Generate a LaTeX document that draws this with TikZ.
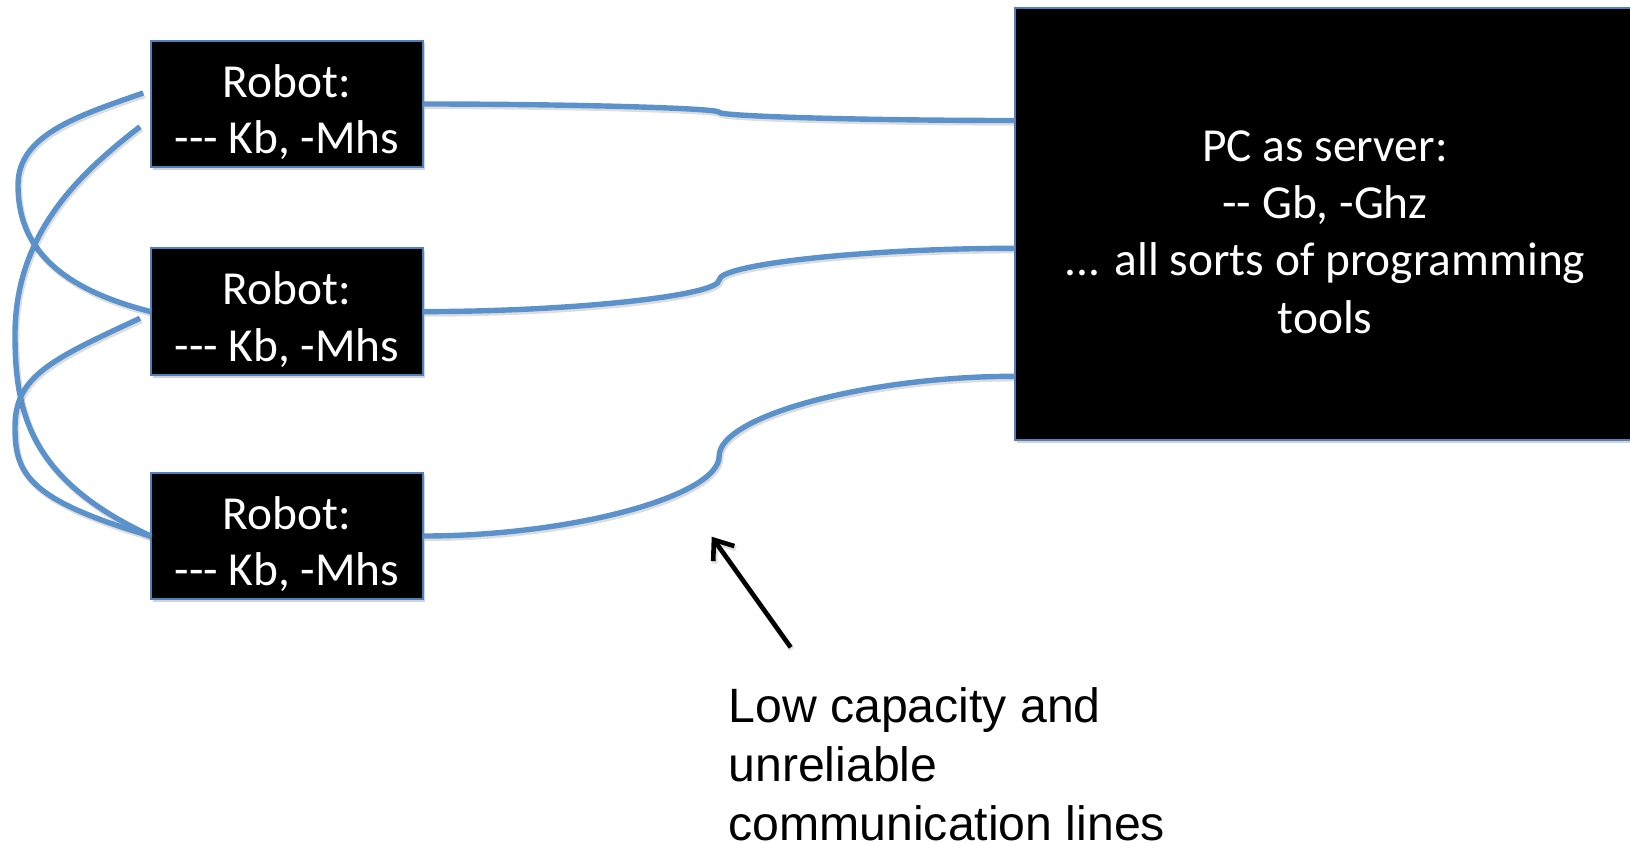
\documentclass[tikz,border=0pt]{standalone}
\usepackage{fontspec}
\setmainfont{Carlito}[Ligatures=TeXOff]
\newfontfamily\notefont{Liberation Sans}
\usetikzlibrary{arrows.meta,calc,shadows}
\definecolor{wireblue}{RGB}{92,146,204}
\definecolor{edgeblue}{RGB}{79,129,189}
\begin{document}
\begin{tikzpicture}[x=0.5pt, y=-0.5pt,
  boxshadow/.style={drop shadow={shadow xshift=0.9pt, shadow yshift=-1.3pt, opacity=0.35}},
  unit/.style={draw=edgeblue, line width=0.9pt, fill=black,
    minimum width=136.3pt, minimum height=63.3pt, inner sep=0pt, outer sep=0pt, boxshadow},
  unittext/.style={text=white, align=center, inner sep=0pt,
    font=\fontsize{23.7}{28.35}\selectfont},
  server/.style={draw=edgeblue, line width=0.9pt, fill=black, inner sep=0pt, outer sep=0pt,
    minimum width=325pt, minimum height=215.85pt, boxshadow},
  servertext/.style={text=white, align=center, inner sep=0pt,
    font=\fontsize{23.7}{28.6}\selectfont},
  note/.style={align=left, inner sep=0pt, font=\notefont\fontsize{24.1}{29.5}\selectfont},
  wire/.style={draw=wireblue, line width=2.7pt,
    preaction={draw=black!60, opacity=0.22, line width=3.1pt,
      transform canvas={shift={(0.6pt,-1pt)}}}},
  pointer/.style={draw=black, line width=2.3pt, -{Straight Barb[length=8.5pt,width=13pt]},
    preaction={draw=black!60, opacity=0.2, line width=2.7pt,
      transform canvas={shift={(0.6pt,-1pt)}}}}
]
\useasboundingbox (0,0) rectangle (1630,842);

% robots and the server
\node[unit] (r1) at (287,104) {};
\node[unit] (r2) at (287,311.6) {};
\node[unit] (r3) at (287,536) {};
\node[unittext] (t1) at ($(r1)+(0,8)$) {Robot:\\--- Kb, -Mhs};
\node[unittext] (t2) at ($(r2)+(0,8)$) {Robot:\\--- Kb, -Mhs};
\node[unittext] (t3) at ($(r3)+(0,8)$) {Robot:\\--- Kb, -Mhs};
\node[server] (pc) at (1340,224.15) {};
\node[servertext] (pcl) at ($(pc.west)+(310,8)$)
  {PC as server:\\-- Gb, -Ghz\\... all sorts of programming\\tools};

% attachment points of the links on the server
\coordinate (p1) at ($(pc.north west)+(0,112.2)$);
\coordinate (p2) at ($(pc.north west)+(0,240)$);
\coordinate (p3) at ($(pc.north west)+(0,368)$);

% robot-to-server links
\draw[wire] (r1.east) .. controls +(148,0) and +(0,-4.1) .. ($(r1.east)!.5!(p1)$)
  .. controls +(0,4.1) and +(-148,0) .. (p1);
\draw[wire] (r2.east) .. controls +(148,0) and +(0,15.8) .. ($(r2.east)!.5!(p2)$)
  .. controls +(0,-15.8) and +(-148,0) .. (p2);
\draw[wire] (r3.east) .. controls +(148,0) and +(0,39.9) .. ($(r3.east)!.5!(p3)$)
  .. controls +(0,-39.9) and +(-148,0) .. (p3);

% robot-to-robot links on the left
\coordinate (a1) at ($(r1.west)+(-7.5,-11)$);
\coordinate (b1) at ($(r1.west)+(-10.7,22.7)$);
\coordinate (c1) at ($(r2.west)+(-10.7,6.7)$);
\draw[wire] (a1) .. controls +(-66,23) and +(0,-50) .. (18,185)
  .. controls +(0,50) and +(-107.4,-27) .. (r2.west);
\draw[wire] (b1) .. controls +(-63.2,48.8) and +(0,-100) .. (15,335)
  .. controls +(0,80) and +(-119,-55.6) .. (r3.west);
\draw[wire] (c1) .. controls +(-91,42) and +(0,-50) .. (15,427)
  .. controls +(0,45) and +(-125.2,-36.6) .. (r3.west);

% annotation
\node[note, anchor=north west] (note) at (728,687.5)
  {Low capacity and\\unreliable\\communication lines};
\coordinate (tail) at (790.7,647.3);
\coordinate (tip) at (711.7,536.7);
\draw[pointer] (tail) -- (tip);
\end{tikzpicture}
\end{document}
